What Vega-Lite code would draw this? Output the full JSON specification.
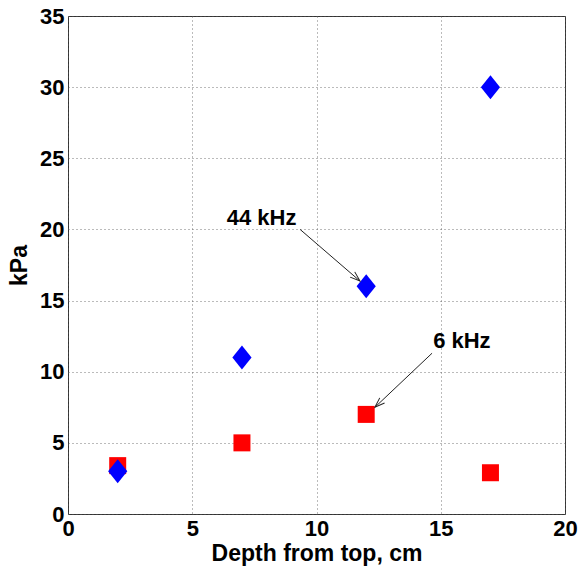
{
  "$schema": "https://vega.github.io/schema/vega-lite/v6.json",
  "width": 497,
  "height": 498,
  "autosize": "none",
  "padding": {"left": 68, "top": 16, "right": 16, "bottom": 57},
  "background": "white",
  "config": {
    "font": "Liberation Sans",
    "view": {"stroke": "#333", "strokeWidth": 1},
    "axis": {
      "grid": true,
      "gridDash": [1, 3],
      "gridColor": "#555",
      "gridOpacity": 0.8,
      "domain": false,
      "ticks": false,
      "labelFont": "Liberation Sans",
      "labelFontWeight": "bold",
      "labelFontSize": 22,
      "labelColor": "#000",
      "titleFont": "Liberation Sans",
      "titleFontWeight": "bold",
      "titleFontSize": 23,
      "titleColor": "#000"
    }
  },
  "datasets": {
    "points": [
      {"series": "6 kHz", "x": 2, "y": 3.4},
      {"series": "6 kHz", "x": 7, "y": 5},
      {"series": "6 kHz", "x": 12, "y": 7},
      {"series": "6 kHz", "x": 17, "y": 2.9},
      {"series": "44 kHz", "x": 2, "y": 3},
      {"series": "44 kHz", "x": 7, "y": 11},
      {"series": "44 kHz", "x": 12, "y": 16},
      {"series": "44 kHz", "x": 17, "y": 30}
    ],
    "arrows": [
      {"label": "44 kHz", "x": 9.34, "y": 20.0, "x2": 11.75, "y2": 16.37, "tx": 7.79, "ty": 20.8},
      {"label": "6 kHz", "x": 14.65, "y": 11.3, "x2": 12.35, "y2": 7.5, "tx": 15.85, "ty": 12.16}
    ]
  },
  "encoding": {
    "x": {
      "field": "x",
      "type": "quantitative",
      "scale": {"domain": [0, 20], "nice": false, "zero": false},
      "axis": {"values": [0, 5, 10, 15, 20], "title": "Depth from top, cm", "labelPadding": 4, "titlePadding": 3, "labelFlush": false}
    },
    "y": {
      "field": "y",
      "type": "quantitative",
      "scale": {"domain": [0, 35], "nice": false, "zero": false},
      "axis": {"values": [0, 5, 10, 15, 20, 25, 30, 35], "title": "kPa", "labelPadding": 4, "titlePadding": 8, "labelFlush": false}
    }
  },
  "layer": [
    {
      "data": {"name": "points"},
      "transform": [{"filter": "datum.series === '6 kHz'"}],
      "mark": {"type": "point", "shape": "square", "filled": true, "size": 289, "color": "#ff0000", "opacity": 1}
    },
    {
      "data": {"name": "points"},
      "transform": [{"filter": "datum.series === '44 kHz'"}],
      "mark": {"type": "point", "shape": "M 0 -1 L 0.8 0 L 0 1 L -0.8 0 Z", "filled": true, "size": 576, "color": "#0000ff", "opacity": 1}
    },
    {
      "data": {"name": "arrows"},
      "mark": {"type": "rule", "color": "#222", "strokeWidth": 1},
      "encoding": {"x2": {"field": "x2"}, "y2": {"field": "y2"}}
    },
    {
      "data": {"name": "arrows"},
      "transform": [{"filter": "datum.label === '44 kHz'"}],
      "mark": {"type": "point", "shape": "M -0.35 1 L 0 0 L 0.35 1", "filled": false, "size": 400, "stroke": "#222", "strokeWidth": 1, "opacity": 1, "angle": 131},
      "encoding": {"x": {"field": "x2", "type": "quantitative"}, "y": {"field": "y2", "type": "quantitative"}}
    },
    {
      "data": {"name": "arrows"},
      "transform": [{"filter": "datum.label === '6 kHz'"}],
      "mark": {"type": "point", "shape": "M -0.35 1 L 0 0 L 0.35 1", "filled": false, "size": 400, "stroke": "#222", "strokeWidth": 1, "opacity": 1, "angle": 226.5},
      "encoding": {"x": {"field": "x2", "type": "quantitative"}, "y": {"field": "y2", "type": "quantitative"}}
    },
    {
      "data": {"name": "arrows"},
      "mark": {"type": "text", "font": "Liberation Sans", "fontWeight": "bold", "fontSize": 22, "color": "#000", "align": "center", "baseline": "middle"},
      "encoding": {"x": {"field": "tx", "type": "quantitative"}, "y": {"field": "ty", "type": "quantitative"}, "text": {"field": "label"}}
    }
  ]
}
